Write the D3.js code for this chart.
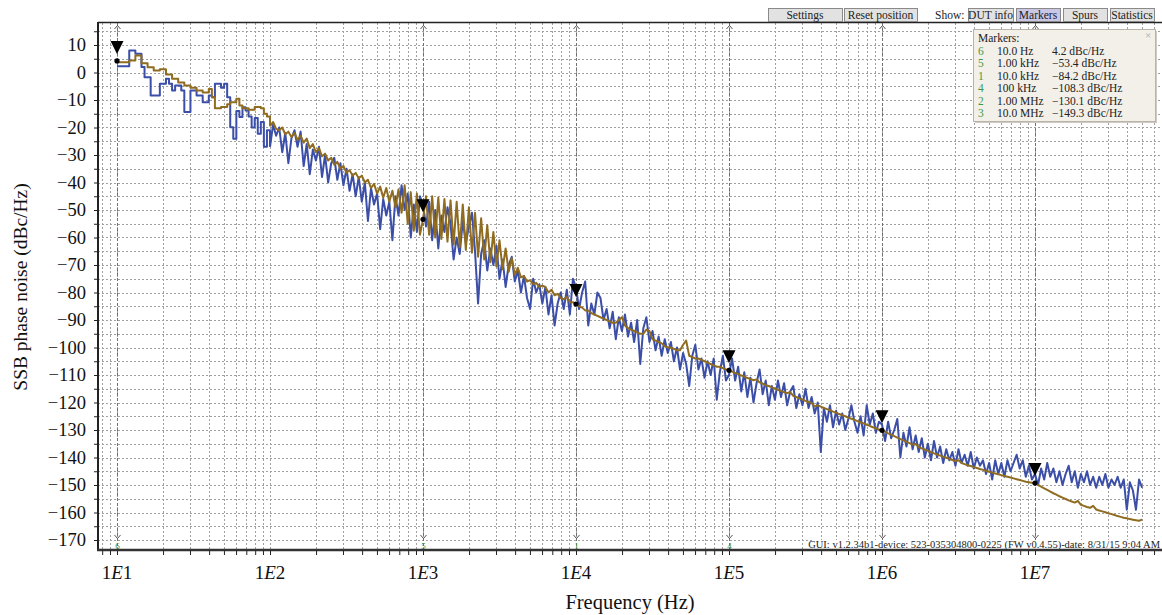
<!DOCTYPE html>
<html>
<head>
<meta charset="utf-8">
<script src="https://cdn.jsdelivr.net/npm/d3@7"></script>
<style>
  body { margin: 0; background: #fff; }
  svg { display: block; font-family: "Liberation Serif", "DejaVu Serif", serif; }
</style>
</head>
<body>
<svg id="chart" width="1162" height="615"></svg>
<script>
// Trace bins: 50 per decade, first bin at 10 Hz
const startHz = 10;
const binsPerDecade = 50;

// Blue trace (dBc/Hz), one array per decade
const blueDecade1 = [2.3, 2.3, 2.3, 2.3, 8.0, 8.0, 6.8, 6.8, 2.0, -1.7,
  -1.7, -8.4, -8.4, -8.4, -4.1, -4.1, -2.3, -4.1, -6.5, -4.7,
  -4.7, -6.5, -14.4, -14.4, -6.5, -6.5, -8.4, -8.4, -10.8, -10.8,
  -8.4, -9.0, -4.1, -4.1, -5.5, -4.1, -9.0, -19.9, -24.1, -14.0,
  -16.2, -12.6, -13.8, -16.0, -20.0, -16.5, -22.3, -18.0, -27.0, -21.0];
const blueDecade2 = [-27, -19, -23, -20, -29, -22, -33, -24, -21, -27,
  -21.5, -34, -26, -37, -28, -32, -27, -38, -30, -40,
  -33, -31, -39, -33, -41, -35, -43, -37, -45, -38,
  -47, -40, -54, -42, -48, -44, -57, -46, -52, -47,
  -61, -45, -52, -41, -50, -44, -60, -48, -58, -45];
const blueDecade3 = [-48, -56, -47, -61, -50, -64, -52, -58, -49, -55,
  -68, -60, -66, -54, -62, -56, -51, -65, -84, -66,
  -61, -72, -64, -70, -63, -75, -68, -78, -70, -67,
  -76, -72, -80, -74, -82, -86, -75, -80, -77, -84,
  -78, -88, -81, -92, -84, -80, -86, -79, -88, -75];
const blueDecade4 = [-78, -86, -80, -76, -92, -84, -88, -80, -82, -90,
  -86, -93, -87, -97, -89, -94, -88, -96, -91, -98,
  -90, -106, -93, -89, -98, -94, -101, -96, -103, -97,
  -102, -98, -105, -100, -108, -102, -106, -114, -103, -99,
  -108, -104, -111, -105, -110, -104, -119, -109, -103, -112];
const blueDecade5 = [-110, -104, -112, -107, -116, -109, -118, -111, -120, -113,
  -108, -117, -112, -121, -114, -119, -112, -118, -113, -121,
  -116, -114, -122, -117, -121, -115, -122, -118, -124, -120,
  -138, -122, -127, -121, -129, -123, -128, -124, -130, -126,
  -121, -127, -131, -125, -132, -121, -128, -124, -131, -127];
const blueDecade6 = [-128, -134, -127, -133, -130, -126, -140, -131, -136, -129,
  -137, -132, -138, -133, -140, -135, -141, -134, -140, -136,
  -142, -137, -141, -138, -143, -137, -142, -139, -143, -138,
  -144, -140, -143, -141, -146, -142, -148, -141, -146, -142,
  -147, -141, -145, -142, -139, -144, -141, -147, -143, -148];
const blueDecade7 = [-146, -150, -144, -148, -142, -147, -144, -149, -145, -150,
  -146, -143, -149, -145, -151, -146, -149, -145, -150, -147,
  -151, -147, -150, -146, -151, -148, -150, -147, -151, -148,
  -159, -149, -152, -159, -148, -151];

// Brown trace (dBc/Hz), one array per decade
const brownDecade1 = [3.7, 3.7, 3.7, 3.7, 4.4, 4.4, 6.2, 6.2, 3.4, 3.4,
  1.9, 1.9, 0.7, 0.7, 1.2, 1.2, -0.7, -0.7, -2.3, -2.3,
  -3.6, -3.6, -4.7, -4.7, -5.5, -5.5, -6.5, -6.5, -7.3, -7.3,
  -6.0, -9.0, -13.0, -13.0, -12.5, -12.5, -11.5, -10.8, -10.8, -9.5,
  -12.0, -13.0, -13.0, -13.5, -13.5, -12.5, -12.5, -13.0, -15.0, -16.0];
const brownDecade2 = [-19.5, -18.0, -20.5, -21.0, -20.0, -22.5, -21.5, -23.5, -22.0, -24.5,
  -23.0, -25.5, -24.0, -27.5, -26.0, -29.0, -27.5, -30.5, -29.5, -32.0,
  -31.0, -33.5, -32.5, -35.0, -34.0, -36.5, -35.5, -37.5, -36.5, -38.5,
  -37.5, -40.0, -39.0, -42.0, -40.5, -44.0, -41.5, -45.5, -42.0, -47.0,
  -43.0, -49.0, -42.5, -51.0, -41.0, -55.0, -43.5, -57.5, -44.0, -59.0];
const brownDecade3 = [-53.4, -45, -59, -45, -60, -45.5, -60.5, -46, -61.5, -46.5,
  -62.5, -47, -63.5, -48, -64.5, -49, -65.5, -51, -67, -53,
  -68, -55.5, -69, -58, -70.5, -61, -71.5, -64, -72.5, -67.5,
  -73.5, -71, -74.5, -74, -76, -75.5, -77, -76.5, -78, -77.5,
  -78, -80, -79, -81, -80.5, -82, -82.5, -81.5, -83.5, -83.5];
const brownDecade4 = [-84.2, -85, -85.5, -86.5, -86.5, -87.5, -88, -88.5, -89, -89.5,
  -90, -90.5, -91, -91, -90, -89, -92, -93, -93.5, -94,
  -94.5, -95, -95, -93.5, -94, -97, -97.5, -98, -98.5, -99.5,
  -100, -100, -100.5, -101, -101, -99, -97.5, -103, -103.5, -104,
  -104, -104.5, -105, -105.5, -106, -106.5, -107, -107, -107.5, -108];
const brownDecade5 = [-108.3, -108.8, -109.3, -109.6, -110.2, -110.5, -111.1, -111.4, -111.9, -111.6,
  -112.7, -113.1, -113.7, -114.0, -114.5, -114.9, -115.4, -115.8, -116.3, -116.6,
  -116.2, -117.6, -118.0, -118.5, -118.9, -119.4, -119.8, -120.2, -121.4, -121.0,
  -121.5, -122.0, -122.4, -122.8, -123.3, -123.7, -124.2, -124.6, -125.0, -125.5,
  -125.9, -126.3, -126.8, -127.2, -127.6, -128.1, -128.5, -129.0, -129.4, -129.8];
const brownDecade6 = [-130.1, -130.6, -131.2, -131.7, -132.2, -132.8, -133.3, -133.8, -134.3, -134.8,
  -135.3, -135.1, -136.2, -136.7, -137.1, -137.6, -138.0, -138.5, -138.9, -139.3,
  -139.7, -140.1, -140.5, -140.9, -141.3, -141.0, -142.0, -142.4, -142.8, -143.1,
  -143.5, -143.8, -144.2, -144.5, -144.8, -145.2, -145.5, -145.8, -146.1, -146.4,
  -146.7, -147.0, -147.3, -147.6, -147.9, -148.2, -148.5, -148.8, -149.0, -149.2];
const brownDecade7 = [-149.3, -150.0, -150.6, -151.2, -151.8, -152.4, -153.0, -153.5, -154.1, -154.6,
  -155.1, -155.6, -156.0, -156.4, -155.8, -157.2, -157.6, -158.0, -158.3, -157.6,
  -158.9, -159.3, -159.6, -159.9, -160.3, -160.6, -160.9, -161.3, -161.6, -161.9,
  -162.1, -162.4, -162.6, -162.8, -163.0, -162.6];

// Markers
const markerIds = ["6", "5", "1", "4", "2", "3"];
const markerFreqs = [10, 1e3, 1e4, 1e5, 1e6, 1e7];
const markerFreqLabels = ["10.0 Hz", "1.00 kHz", "10.0 kHz", "100 kHz", "1.00 MHz", "10.0 MHz"];
const markerValues = [4.2, -53.4, -84.2, -108.3, -130.1, -149.3];

// Axis ticks
const decadeTicks = [10, 1e2, 1e3, 1e4, 1e5, 1e6, 1e7];
const decadeLabels = ["1", "2", "3", "4", "5", "6", "7"];
const yTicks = d3.range(-170, 20, 5);

// Toolbar texts
const leftButtons = ["Settings", "Reset position"];
const showButtons = ["DUT info", "Markers", "Spurs", "Statistics"];
const footerText = "GUI: v1.2.34b1-device: 523-035304800-0225 (FW v0.4.55)-date: 8/31/15 9:04 AM";

// ---------------------------------------------------------------
const plot = { left: 98, right: 1162, top: 23, bottom: 550 };
const footerLeft = 812;

const x = d3.scaleLog().domain([10, 1e7]).range([117, 1035]);
const y = d3.scaleLinear().domain([10, -170]).range([45, 540]);

const svg = d3.select("#chart");

svg.append("defs").append("clipPath")
    .attr("id", "plot-clip")
  .append("rect")
    .attr("x", plot.left)
    .attr("y", plot.top)
    .attr("width", plot.right - plot.left)
    .attr("height", plot.bottom - plot.top);

// Vertical grid: 1..9 per decade
const gridFreqs = [];
for (let e = 0; e <= 7; e++) {
    for (let k = 1; k <= 9; k++) {
        const f = k * Math.pow(10, e);
        if (x(f) > plot.left + 1 && x(f) < plot.right) gridFreqs.push(f);
    }
}

svg.append("g")
    .selectAll("line")
    .data(gridFreqs)
  .join("line")
    .attr("x1", d => Math.round(x(d)) + 0.5)
    .attr("x2", d => Math.round(x(d)) + 0.5)
    .attr("y1", plot.top)
    .attr("y2", plot.bottom)
    .attr("stroke", "#a0a0a0")
    .attr("stroke-dasharray", "2,2");

// Horizontal grid every 5 dB
svg.append("g")
    .selectAll("line")
    .data(yTicks)
  .join("line")
    .attr("x1", plot.left)
    .attr("x2", plot.right)
    .attr("y1", d => Math.round(y(d)) + 0.5)
    .attr("y2", d => Math.round(y(d)) + 0.5)
    .attr("stroke", "#a0a0a0")
    .attr("stroke-dasharray", "2,2");

// Marker lines with chevrons and ids
const markers = markerFreqs.map((f, i) => ({ f, id: markerIds[i], v: markerValues[i] }));

const mk = svg.append("g");
mk.selectAll("line")
    .data(markers)
  .join("line")
    .attr("x1", d => Math.round(x(d.f)) + 0.5)
    .attr("x2", d => Math.round(x(d.f)) + 0.5)
    .attr("y1", plot.top)
    .attr("y2", plot.bottom)
    .attr("stroke", "#707070")
    .attr("stroke-dasharray", "3,2");

mk.selectAll("path.top")
    .data(markers)
  .join("path")
    .attr("class", "top")
    .attr("d", d => { const cx = Math.round(x(d.f)) + 0.5; return `M${cx - 3},29 L${cx},25.5 L${cx + 3},29`; })
    .attr("fill", "none")
    .attr("stroke", "#555");

mk.selectAll("path.bot")
    .data(markers)
  .join("path")
    .attr("class", "bot")
    .attr("d", d => { const cx = Math.round(x(d.f)) + 0.5; return `M${cx - 3},535 L${cx},538.5 L${cx + 3},535`; })
    .attr("fill", "none")
    .attr("stroke", "#555");

// ids under the footer are hidden in the original
mk.selectAll("text")
    .data(markers.filter(d => x(d.f) < footerLeft))
  .join("text")
    .attr("x", d => x(d.f) + 0.5)
    .attr("y", 549)
    .attr("text-anchor", "middle")
    .attr("font-size", 9)
    .attr("fill", "#3c9a4a")
    .text(d => d.id);

// Traces
const toPoints = vals => vals.map((v, i) => ({ f: startHz * Math.pow(10, i / binsPerDecade), v }));

const bluePoints = toPoints([].concat(blueDecade1, blueDecade2, blueDecade3, blueDecade4,
    blueDecade5, blueDecade6, blueDecade7));
const brownPoints = toPoints([].concat(brownDecade1, brownDecade2, brownDecade3, brownDecade4,
    brownDecade5, brownDecade6, brownDecade7));

const stepLine = d3.line().x(d => x(d.f)).y(d => y(d.v)).curve(d3.curveStepAfter);
const plainLine = d3.line().x(d => x(d.f)).y(d => y(d.v));

const traces = svg.append("g").attr("clip-path", "url(#plot-clip)");

[[bluePoints, "#3b4ea8"], [brownPoints, "#8f6c20"]].forEach(([pts, color]) => {
    traces.append("path")
        .attr("d", stepLine(pts.slice(0, binsPerDecade + 1)))
        .attr("fill", "none")
        .attr("stroke", color)
        .attr("stroke-width", 2)
        .attr("stroke-linejoin", "round");
    traces.append("path")
        .attr("d", plainLine(pts.slice(binsPerDecade)))
        .attr("fill", "none")
        .attr("stroke", color)
        .attr("stroke-width", 2)
        .attr("stroke-linejoin", "round");
});

// Marker triangles and dots
const mt = svg.append("g");
mt.selectAll("path")
    .data(markers)
  .join("path")
    .attr("d", d => {
        const cx = x(d.f), cy = y(d.v);
        return `M${cx - 6.5},${cy - 20} L${cx + 6.5},${cy - 20} L${cx},${cy - 7} Z`;
    })
    .attr("fill", "#000");
mt.selectAll("circle")
    .data(markers)
  .join("circle")
    .attr("cx", d => x(d.f))
    .attr("cy", d => y(d.v))
    .attr("r", 2.6)
    .attr("fill", "#000");

// Y axis
const yAxis = svg.append("g")
    .attr("transform", `translate(${plot.left},0)`)
    .call(d3.axisLeft(y)
        .tickValues(yTicks)
        .tickSize(4)
        .tickPadding(8)
        .tickFormat(d => d % 10 === 0 ? d3.format("d")(d) : ""));
yAxis.select(".domain").remove();
yAxis.selectAll("line").attr("stroke", "#222");
yAxis.selectAll("text")
    .attr("font-family", "\"Liberation Serif\", \"DejaVu Serif\", serif")
    .attr("font-size", 18.5)
    .attr("fill", "#111");

// X axis ticks
const xAxis = svg.append("g")
    .attr("transform", `translate(0,${plot.bottom})`)
    .call(d3.axisBottom(x)
        .tickValues(gridFreqs)
        .tickSize(5)
        .tickFormat(""));
xAxis.select(".domain").remove();
xAxis.selectAll("line").attr("stroke", "#222");

svg.append("g")
    .selectAll("text")
    .data(decadeTicks)
  .join("text")
    .attr("x", d => x(d))
    .attr("y", 579)
    .attr("text-anchor", "middle")
    .attr("font-size", 19)
    .attr("fill", "#111")
    .each(function(d, i) {
        const t = d3.select(this);
        t.append("tspan").text("1");
        t.append("tspan").attr("font-style", "italic").text("E");
        t.append("tspan").text(decadeLabels[i]);
    });

// Footer with its own white background
svg.append("rect")
    .attr("x", footerLeft).attr("y", 540)
    .attr("width", plot.right - footerLeft).attr("height", 9)
    .attr("fill", "#fff");
svg.append("text")
    .attr("x", 1160)
    .attr("y", 548)
    .attr("text-anchor", "end")
    .attr("font-size", 10.5)
    .attr("fill", "#222")
    .text(footerText);

// Frame lines
svg.append("line")
    .attr("x1", plot.left).attr("x2", plot.left)
    .attr("y1", plot.top - 1).attr("y2", plot.bottom + 1)
    .attr("stroke", "#222").attr("stroke-width", 2);
svg.append("line")
    .attr("x1", plot.left - 1).attr("x2", plot.right)
    .attr("y1", plot.bottom).attr("y2", plot.bottom)
    .attr("stroke", "#333").attr("stroke-width", 2.5);
svg.append("line")
    .attr("x1", plot.left).attr("x2", plot.right)
    .attr("y1", plot.top - 0.5).attr("y2", plot.top - 0.5)
    .attr("stroke", "#222").attr("stroke-width", 1.5);

// Axis titles
svg.append("text")
    .attr("x", 630)
    .attr("y", 609)
    .attr("text-anchor", "middle")
    .attr("font-size", 20.5)
    .attr("fill", "#111")
    .text("Frequency (Hz)");

svg.append("text")
    .attr("transform", "translate(27,287) rotate(-90)")
    .attr("text-anchor", "middle")
    .attr("font-size", 19.5)
    .attr("fill", "#111")
    .text("SSB phase noise (dBc/Hz)");

// Toolbar
const leftButtonBoxes = [[768, 74], [844, 73]];
const showButtonBoxes = [[968, 45], [1016, 44], [1063, 44], [1110, 44]];

const tb = svg.append("g").attr("font-size", 11.5);

function button(box, label, active) {
    tb.append("rect")
        .attr("x", box[0] + 0.5).attr("y", 8.5)
        .attr("width", box[1]).attr("height", 13)
        .attr("fill", active ? "#c9c6e6" : "#e2e2e2")
        .attr("stroke", "#8a8a8a");
    tb.append("text")
        .attr("x", box[0] + box[1] / 2).attr("y", 19)
        .attr("text-anchor", "middle")
        .attr("fill", "#222")
        .text(label);
}
leftButtons.forEach((label, i) => button(leftButtonBoxes[i], label, false));
tb.append("text").attr("x", 935).attr("y", 19).attr("fill", "#222").text("Show:");
showButtons.forEach((label, i) => button(showButtonBoxes[i], label, label === "Markers"));

// Markers panel
const panel = svg.append("g").attr("font-size", 11.5);
panel.append("rect")
    .attr("x", 975).attr("y", 31).attr("width", 182).attr("height", 92)
    .attr("fill", "#cfcbc2");
panel.append("rect")
    .attr("x", 973.5).attr("y", 29.5).attr("width", 182).attr("height", 92)
    .attr("fill", "#f3f0e9")
    .attr("stroke", "#b8b4aa");
panel.append("text").attr("x", 978).attr("y", 42).attr("fill", "#222").text("Markers:");
panel.append("text").attr("x", 1148).attr("y", 39).attr("text-anchor", "middle")
    .attr("fill", "#aaa").attr("font-size", 11).text("×");

const rows = panel.selectAll("g.row")
    .data(markers)
  .join("g")
    .attr("class", "row")
    .attr("transform", (d, i) => `translate(0,${55 + i * 12.4})`);
rows.append("text").attr("x", 978).attr("fill", "#3c9a4a").text(d => d.id);
rows.append("text").attr("x", 997).attr("fill", "#222").text((d, i) => markerFreqLabels[i]);
rows.append("text").attr("x", 1052).attr("fill", "#222")
    .text(d => d3.format(".1f")(d.v) + " dBc/Hz");
</script>
</body>
</html>
